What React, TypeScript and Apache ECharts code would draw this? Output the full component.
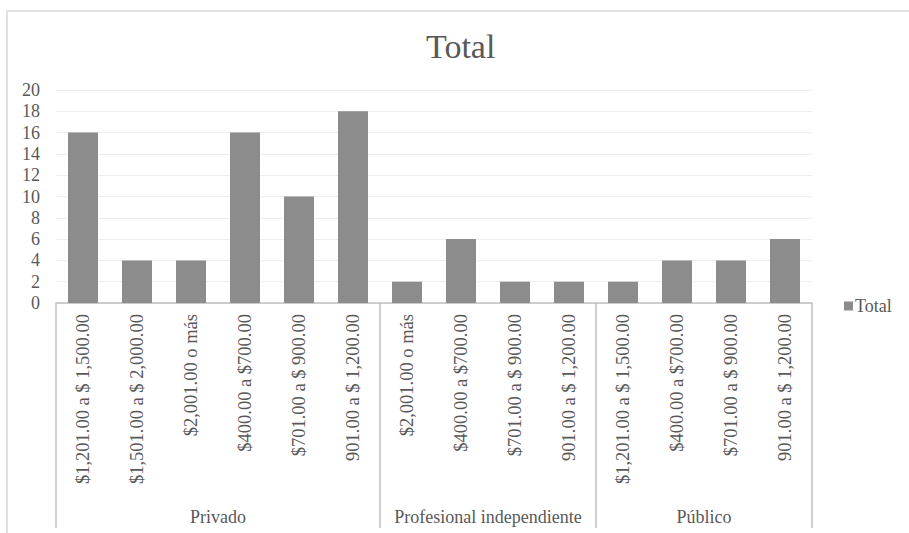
import React, { useEffect, useRef } from "react";
import * as echarts from "echarts";

const groupNames = ["Privado", "Profesional independiente", "Público"];
const privadoLabels = [
  "$1,201.00 a $ 1,500.00",
  "$1,501.00 a $ 2,000.00",
  "$2,001.00 o más",
  "$400.00 a $700.00",
  "$701.00 a $ 900.00",
  "901.00 a $ 1,200.00",
];
const privadoValues = [16, 4, 4, 16, 10, 18];
const profesionalLabels = [
  "$2,001.00 o más",
  "$400.00 a $700.00",
  "$701.00 a $ 900.00",
  "901.00 a $ 1,200.00",
];
const profesionalValues = [2, 6, 2, 2];
const publicoLabels = [
  "$1,201.00 a $ 1,500.00",
  "$400.00 a $700.00",
  "$701.00 a $ 900.00",
  "901.00 a $ 1,200.00",
];
const publicoValues = [2, 4, 4, 6];
const yTicks = [0, 2, 4, 6, 8, 10, 12, 14, 16, 18, 20];

const FONT = "'Liberation Serif', 'Times New Roman', 'DejaVu Serif', serif";
const TEXT = "#595959";

export default function App() {
  const ref = useRef<HTMLDivElement>(null);
  useEffect(() => {
    if (!ref.current) return;
    const chart = echarts.init(ref.current, undefined, { renderer: "svg" });
    const groups = [
      { name: groupNames[0], labels: privadoLabels, values: privadoValues },
      { name: groupNames[1], labels: profesionalLabels, values: profesionalValues },
      { name: groupNames[2], labels: publicoLabels, values: publicoValues },
    ];
    const categories: string[] = [];
    const values: number[] = [];
    const boundaries: number[] = [0];
    const centers: number[] = [];
    const centerNames: Record<string, string> = {};
    groups.forEach((g) => {
      const start = categories.length;
      categories.push(...g.labels);
      values.push(...g.values);
      const end = categories.length;
      boundaries.push(end);
      const c = (start + end) / 2;
      centers.push(c);
      centerNames[String(c)] = g.name;
    });
    const total = categories.length;

    chart.setOption({
      animation: false,
      backgroundColor: "#ffffff",
      textStyle: { fontFamily: FONT },
      title: {
        text: "Total",
        left: 421,
        top: 24,
        textStyle: { fontFamily: FONT, fontSize: 34, fontWeight: "normal", color: TEXT },
      },
      legend: {
        data: ["Total"],
        left: 839,
        top: 292,
        icon: "rect",
        itemWidth: 9,
        itemHeight: 9,
        itemGap: 4,
        textStyle: { fontFamily: FONT, fontSize: 18, color: TEXT, padding: [0, 0, 0, -3] },
      },
      grid: { left: 56, right: 97, top: 90, bottom: 230, containLabel: false },
      xAxis: [
        {
          type: "category",
          data: categories,
          axisLine: { lineStyle: { color: "#bfbfbf", width: 1.5 } },
          axisTick: { show: false },
          axisLabel: {
            rotate: 90,
            interval: 0,
            margin: 11,
            fontFamily: FONT,
            fontSize: 18.5,
            color: TEXT,
          },
        },
        {
          type: "value",
          min: 0,
          max: total,
          position: "bottom",
          axisLine: { show: false },
          splitLine: { show: false },
          axisTick: {
            show: true,
            customValues: boundaries,
            length: 225,
            lineStyle: { color: "#bfbfbf", width: 1.5 },
          },
          axisLabel: {
            customValues: centers,
            margin: 205,
            fontFamily: FONT,
            fontSize: 18,
            color: TEXT,
            formatter: (v: number) => centerNames[String(v)] || "",
          },
        },
      ],
      yAxis: {
        type: "value",
        min: 0,
        max: 20,
        interval: 2,
        axisLine: { show: false },
        axisTick: { show: false },
        splitLine: { lineStyle: { color: "#eeeeee", width: 1 } },
        axisLabel: {
          margin: 16,
          fontFamily: FONT,
          fontSize: 18,
          color: TEXT,
          formatter: (v: number) => (yTicks.includes(v) ? String(v) : ""),
        },
      },
      series: [
        {
          name: "Total",
          type: "bar",
          data: values,
          barWidth: 30,
          itemStyle: { color: "#8c8c8c" },
        },
      ],
      graphic: [
        {
          type: "rect",
          shape: { x: 7, y: 11, width: 920, height: 540 },
          style: { fill: "none", stroke: "#d9d9d9", lineWidth: 1.5 },
          silent: true,
        },
      ],
    });
    return () => chart.dispose();
  }, []);
  return (
    <div
      ref={ref}
      style={{ position: "fixed", left: 0, top: 0, width: 909, height: 533 }}
    />
  );
}
